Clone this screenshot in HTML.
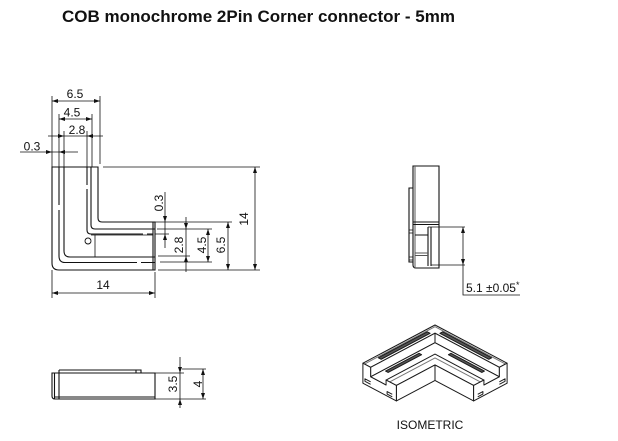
<!DOCTYPE html>
<html><head><meta charset="utf-8"><style>
html,body{margin:0;padding:0;background:#fff;}
svg{display:block;}
.iso *{vector-effect:non-scaling-stroke;}
text{font-family:"Liberation Sans",Arial,sans-serif;fill:#111;}
</style></head><body>
<svg width="618" height="441" viewBox="0 0 618 441" xmlns="http://www.w3.org/2000/svg">
<rect width="618" height="441" fill="#fff"/>
<text x="62" y="22" font-size="17" font-weight="bold" fill="#000">COB monochrome 2Pin Corner connector - 5mm</text>

<!-- ===== Main top view ===== -->
<g stroke="#111" fill="none" stroke-width="1.1">
  <path d="M52,167 V263 Q52,270 59,270 H155 V222 H102 Q98,222 98,218 V167 Z"/>
  <path d="M153,222 V270"/>
  <path d="M59,167 V205 M59,210 V256 Q59,262.5 65,262.5 H137 M141,262.5 H155"/>
  <path d="M64,167 V251 Q64,257 70,257 H155"/>
  <path d="M87,167 V185 M87,189 V230 Q87,234 91,234 H143 M147,234 H153"/>
  <path d="M91,167 V225 Q91,229 95,229 H155"/>
  <path d="M95,235 V257 M91,235 H153" stroke-width="0.8"/>
  <circle cx="88" cy="241" r="3" stroke-width="0.9"/>
</g>

<!-- dimension & extension lines -->
<g stroke="#111" fill="none" stroke-width="0.8">
  <path d="M52,96 V167 M100,96 V164 M59,114 V167 M92,114 V167 M64,131 V167 M87,131 V167"/>
  <path d="M52,101 H100 M59,119 H92 M48,136 H103 M20,152 H78"/>
  <path d="M103,167 H260 M158,270 H260 M155,222 H232 M157,229 H212 M155,234 H169 M158,256 H190 M160,262 H212"/>
  <path d="M255,167 V270 M228,222 V270 M208,229 V262 M186,217 V272 M165,192 V248"/>
  <path d="M155,373 H184 M182,369 H206 M155,399 H206 M180,357 V408 M203,369 V399"/>
  <path d="M428,227 H465 M431,265 H465 M463,227 V295 H520"/>
</g>
<g fill="#111" stroke="none">
  <path d="M52,101 l6,-2 v4 Z M100,101 l-6,-2 v4 Z"/>
  <path d="M59,119 l6,-2 v4 Z M92,119 l-6,-2 v4 Z"/>
  <path d="M64,136 l-6,-2 v4 Z M87,136 l6,-2 v4 Z"/>
  <path d="M52,152 l-6,-2 v4 Z M59,152 l6,-2 v4 Z"/>
  <path d="M255,167 l-2,6 h4 Z M255,270 l-2,-6 h4 Z"/>
  <path d="M228,222 l-2,6 h4 Z M228,270 l-2,-6 h4 Z"/>
  <path d="M208,229 l-2,6 h4 Z M208,262 l-2,-6 h4 Z"/>
  <path d="M186,229 l-2,-6 h4 Z M186,256 l-2,6 h4 Z"/>
  <path d="M165,222 l-2,-6 h4 Z M165,234 l-2,6 h4 Z"/>
  <path d="M180,373 l-2,-6 h4 Z M180,399 l-2,6 h4 Z"/>
  <path d="M203,369 l-2,6 h4 Z M203,399 l-2,-6 h4 Z"/>
  <path d="M463,227 l-2,6 h4 Z M463,265 l-2,-6 h4 Z"/>
</g>

<g font-size="12" text-anchor="middle">
  <text x="75" y="98">6.5</text>
  <text x="72" y="116.5">4.5</text>
  <text x="77" y="134">2.8</text>
  <text x="32" y="150.5">0.3</text>
  <text transform="translate(244,219) rotate(-90)" dominant-baseline="central">14</text>
  <text transform="translate(221,245) rotate(-90)" dominant-baseline="central">6.5</text>
  <text transform="translate(202,245) rotate(-90)" dominant-baseline="central">4.5</text>
  <text transform="translate(179,245) rotate(-90)" dominant-baseline="central">2.8</text>
  <text transform="translate(159,203) rotate(-90)" dominant-baseline="central">0.3</text>
  <text x="103" y="289">14</text>
  <text transform="translate(173,384) rotate(-90)" dominant-baseline="central">3.5</text>
  <text transform="translate(198,384) rotate(-90)" dominant-baseline="central">4</text>
</g>
<g stroke="#111" stroke-width="0.8" fill="none"><path d="M52,270 V298 M155,272 V298 M52,293 H155"/></g>
<g fill="#111"><path d="M52,293 l6,-2 v4 Z M155,293 l-6,-2 v4 Z"/></g>

<!-- ===== Bottom view ===== -->
<g stroke="#111" fill="none" stroke-width="1.1">
  <path d="M52,373 H155 V399 H55 Q52,399 52,396 Z"/>
  <path d="M54.5,373 V399 M59,370 V399 M59,370 H141 V373 M136,370 V373 M54,397 H155"/>
</g>

<!-- ===== Side view ===== -->
<g stroke="#111" fill="none" stroke-width="1.1">
  <path d="M413,166 H439 V268 H416 Q413,268 413,265 Z"/>
  <path d="M415,166 V268" stroke="#666"/>
  <path d="M413,222 H439 M413,224.5 H439"/>
  <path d="M413,188 H409 V262 H413"/>
  <path d="M409,230 H413 M409,233 H413 M409,257 H413 M409,260 H413" stroke-width="0.8"/>
  <path d="M415,235 H428 V227 M428,235 V266 M431,227 V266"/>
  <path d="M415,253 H428 M415,255.5 H428" stroke="#555"/>
</g>
<text x="466" y="292" font-size="12">5.1 ±0.05<tspan font-size="9" dy="-4">*</tspan></text>

<!-- ===== Isometric ===== -->
<g class="iso" stroke="#1a1a1a" stroke-width="1" stroke-linejoin="round">
  <g transform="matrix(-5.15 2.73 5.15 2.73 435 325)">
    <polygon fill="#fff" points="0,0 14,0 14,1.5 1.5,1.5 1.5,14 0,14"/>
    <polyline fill="none" points="14,0.3 0.3,0.3 0.3,14" stroke="#777"/>
    <polygon fill="#555" points="2,0.5 11.5,0.5 11.5,1.05 2,1.05"/>
    <polygon fill="#555" points="0.5,2 0.5,11.5 1.05,11.5 1.05,2"/>
  </g>
  <g transform="matrix(-5.15 2.73 0 5 442.725 329.095)">
    <polygon fill="#fff" points="1.5,0 14,0 14,1.9 1.5,1.9"/>
  </g>
  <g transform="matrix(5.15 2.73 0 5 427.275 329.095)">
    <polygon fill="#fff" points="1.5,0 14,0 14,1.9 1.5,1.9"/>
  </g>
  <g transform="matrix(-5.15 2.73 5.15 2.73 435 334.5)">
    <polygon fill="#fff" points="1.5,1.5 14,1.5 14,4.5 4.5,4.5 4.5,14 1.5,14"/>
    <polygon fill="#555" points="5,1.9 11.5,1.9 11.5,2.4 5,2.4"/>
    <polygon fill="#555" points="1.9,5 2.4,5 2.4,11.5 1.9,11.5"/>
  </g>
  <g transform="matrix(-5.15 2.73 5.15 2.73 435 329.5)">
    <polygon fill="#fff" points="4.5,4.5 14,4.5 14,6.5 6.5,6.5 6.5,14 4.5,14"/>
    <polyline fill="none" points="14,5.2 5.2,5.2 5.2,14" stroke="#777"/>
  </g>
  <g transform="matrix(-5.15 2.73 0 5 468.475 342.745)">
    <polygon fill="#fff" points="6.5,0.9 14,0.9 14,4 6.5,4"/>
  </g>
  <g transform="matrix(5.15 2.73 0 5 401.525 342.745)">
    <polygon fill="#fff" points="6.5,0.9 14,0.9 14,4 6.5,4"/>
  </g>
  <g transform="matrix(5.15 2.73 0 5 362.9 363.22)">
    <polygon fill="#fff" points="0,0 1.5,0 1.5,1.9 4.5,1.9 4.5,0.9 6.5,0.9 6.5,4 0,4"/>
    <polyline fill="none" points="1.5,2.9 0.4,2.9 0.4,3.4 1.5,3.4"/>
    <polyline fill="none" points="5.7,3.1 4.7,3.1 4.7,3.6 5.7,3.6"/>
  </g>
  <g transform="matrix(-5.15 2.73 0 5 507.1 363.22)">
    <polygon fill="#fff" points="0,0 1.5,0 1.5,1.9 4.5,1.9 4.5,0.9 6.5,0.9 6.5,4 0,4"/>
    <polyline fill="none" points="1.5,2.9 0.4,2.9 0.4,3.4 1.5,3.4"/>
    <polyline fill="none" points="5.7,3.1 4.7,3.1 4.7,3.6 5.7,3.6"/>
  </g>
</g>
<text x="430" y="429" font-size="12" text-anchor="middle" fill="#333">ISOMETRIC</text>
</svg>
</body></html>
